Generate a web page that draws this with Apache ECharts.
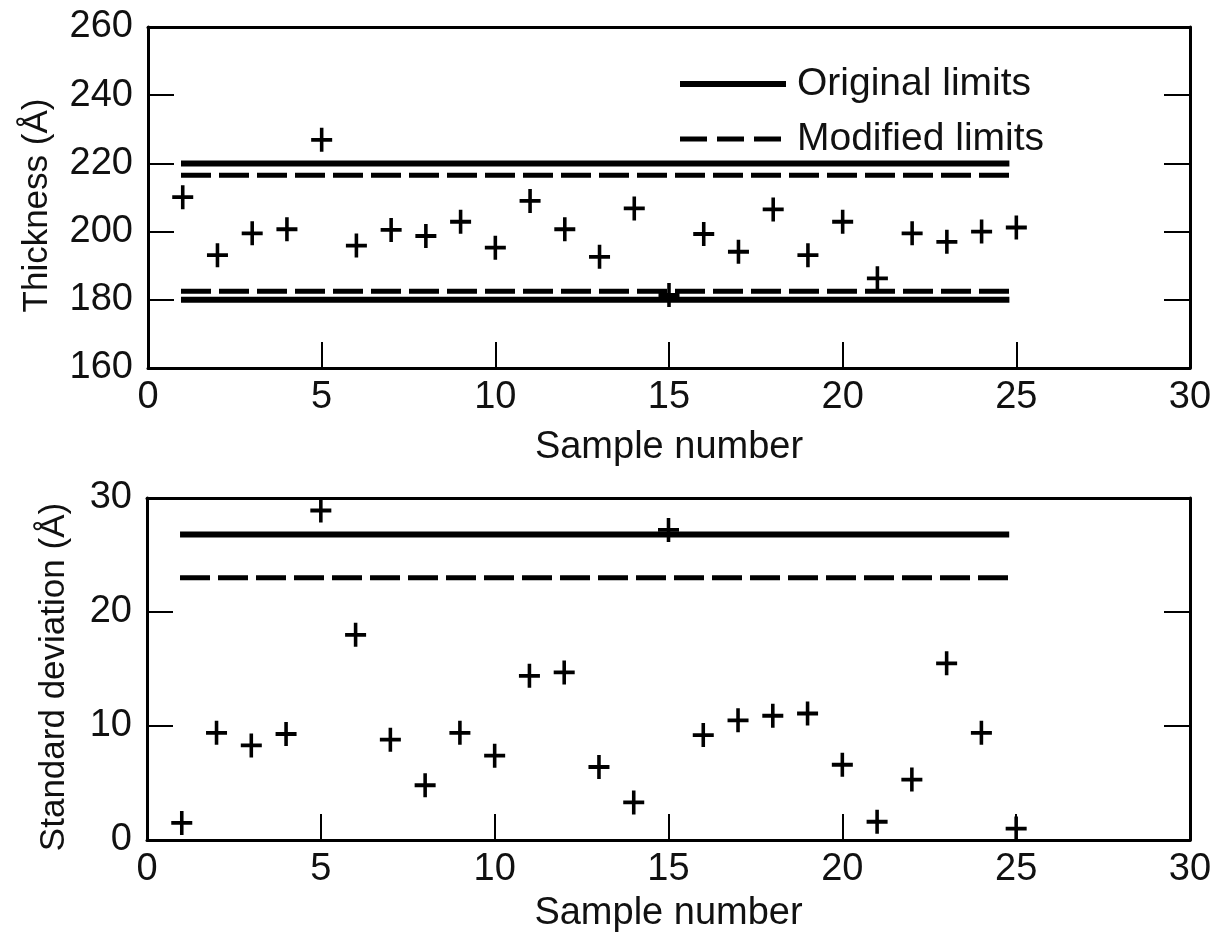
<!DOCTYPE html>
<html>
<head>
<meta charset="utf-8">
<script src="https://cdn.jsdelivr.net/npm/echarts@6/dist/echarts.min.js"></script>
<style>
html,body{margin:0;padding:0;background:#fff;}
#chart{width:1219px;height:942px;}
</style>
</head>
<body>
<div id="chart"></div>
<script>
// ---- data ----
const samples = [1,2,3,4,5,6,7,8,9,10,11,12,13,14,15,16,17,18,19,20,21,22,23,24,25];
const thickness = [210.1,193.1,199.5,200.7,226.9,195.9,200.5,198.7,202.9,195.3,209.0,200.7,192.6,206.8,181.4,199.3,194.1,206.5,193.1,202.9,186.3,199.5,197.0,200.0,201.2];
const stdDev = [1.5,9.4,8.3,9.3,28.9,18.0,8.8,4.8,9.4,7.4,14.4,14.7,6.4,3.3,27.2,9.2,10.5,10.9,11.1,6.6,1.6,5.3,15.5,9.4,1.0];
const limitRange = [0.95, 24.8];
const thicknessOriginalLimits = [220, 180];
const thicknessModifiedLimits = [216.5, 182.5];
const sdOriginalLimit = [26.8];
const sdModifiedLimit = [23.0];
const xTicks = [0, 30, 5];          // min, max, interval
const thicknessTicks = [160, 260, 20];
const sdTicks = [0, 30, 10];

const FONT = '"Liberation Sans", Arial, sans-serif';
const INK = '#111';
const plusPath = 'path://M8.3,0 H11.7 V8.4 H20 V11.6 H11.7 V20 H8.3 V11.6 H0 V8.4 H8.3 Z';

function pairs(ys){ return samples.map((s,i)=>[s, ys[i]]); }
function limitLine(v){ return [[limitRange[0], v],[limitRange[1], v]]; }

const solidStyle = {color:'#000', width:6, type:'solid'};
const dashStyle = {color:'#000', width:5, type:[30,8]};

function xAxisPair(gi, nameGap){
  return [
    {type:'value', gridIndex:gi, min:xTicks[0], max:xTicks[1], interval:xTicks[2], position:'bottom',
     axisLine:{show:true, onZero:false, lineStyle:{color:'#000', width:3}},
     axisTick:{show:true, inside:true, length:26, lineStyle:{color:'#000', width:2}},
     axisLabel:{fontSize:38, color:INK, margin:11, fontFamily:FONT},
     splitLine:{show:false},
     name:'Sample number', nameLocation:'middle', nameGap:nameGap,
     nameTextStyle:{fontSize:38, color:INK, fontFamily:FONT}},
    {type:'value', gridIndex:gi, min:xTicks[0], max:xTicks[1], interval:xTicks[2], position:'top',
     axisLine:{show:true, onZero:false, lineStyle:{color:'#000', width:3}},
     axisTick:{show:false}, axisLabel:{show:false}, splitLine:{show:false}}
  ];
}
function yAxisPair(gi, ticks, name, nameGap){
  return [
    {type:'value', gridIndex:gi, min:ticks[0], max:ticks[1], interval:ticks[2], position:'left',
     axisLine:{show:true, onZero:false, lineStyle:{color:'#000', width:3}},
     axisTick:{show:true, inside:true, length:26, lineStyle:{color:'#000', width:2}},
     axisLabel:{fontSize:38, color:INK, margin:15, fontFamily:FONT},
     splitLine:{show:false},
     name:name, nameLocation:'middle', nameGap:nameGap, nameRotate:90,
     nameTextStyle:{fontSize:35, color:INK, fontFamily:FONT, padding:[0,16,0,0]}},
    {type:'value', gridIndex:gi, min:ticks[0], max:ticks[1], interval:ticks[2], position:'right',
     axisLine:{show:true, onZero:false, lineStyle:{color:'#000', width:3}},
     axisTick:{show:true, inside:true, length:26, lineStyle:{color:'#000', width:2}},
     axisLabel:{show:false}, splitLine:{show:false}}
  ];
}

const xs = xAxisPair(0, 61).concat(xAxisPair(1, 55));
const ys = yAxisPair(0, thicknessTicks, 'Thickness (Å)', 93).concat(yAxisPair(1, sdTicks, 'Standard deviation (Å)', 75));

function scatter(xi, yi, data){
  return {type:'scatter', xAxisIndex:xi, yAxisIndex:yi, data:data, symbol:plusPath,
    symbolSize:[21,24], itemStyle:{color:'#000', opacity:1}, silent:true, z:5};
}
function lim(name, xi, yi, v, style){
  return {type:'line', name:name, xAxisIndex:xi, yAxisIndex:yi, data:limitLine(v),
    symbol:'none', showSymbol:false, lineStyle:style, itemStyle:{color:'#000'}, silent:true, z:3};
}

const series = [
  lim('Original limits', 0, 0, thicknessOriginalLimits[0], solidStyle),
  lim('Original limits', 0, 0, thicknessOriginalLimits[1], solidStyle),
  lim('Modified limits', 0, 0, thicknessModifiedLimits[0], dashStyle),
  lim('Modified limits', 0, 0, thicknessModifiedLimits[1], dashStyle),
  scatter(0, 0, pairs(thickness)),
  lim('Original limits', 2, 2, sdOriginalLimit[0], solidStyle),
  lim('Modified limits', 2, 2, sdModifiedLimit[0], dashStyle),
  scatter(2, 2, pairs(stdDev))
];

const chart = echarts.init(document.getElementById('chart'), null, {renderer:'canvas'});
chart.setOption({
  animation:false,
  backgroundColor:'#fff',
  grid:[
    {left:148, right:29, top:27, height:341},
    {left:147, right:29, top:498, height:342}
  ],
  legend:{
    orient:'vertical', left:672, top:59, itemWidth:106, itemHeight:14, itemGap:15,
    selectedMode:false,
    data:[
      {name:'Original limits', itemStyle:{opacity:0}, lineStyle:{width:6, type:'solid', color:'#000'}},
      {name:'Modified limits', itemStyle:{opacity:0}, lineStyle:{width:5, type:[27,10], color:'#000'}}
    ],
    textStyle:{fontSize:39, color:INK, fontFamily:FONT, lineHeight:40, padding:[0,0,0,6]}
  },
  xAxis:xs,
  yAxis:ys,
  series:series
});
</script>
</body>
</html>
